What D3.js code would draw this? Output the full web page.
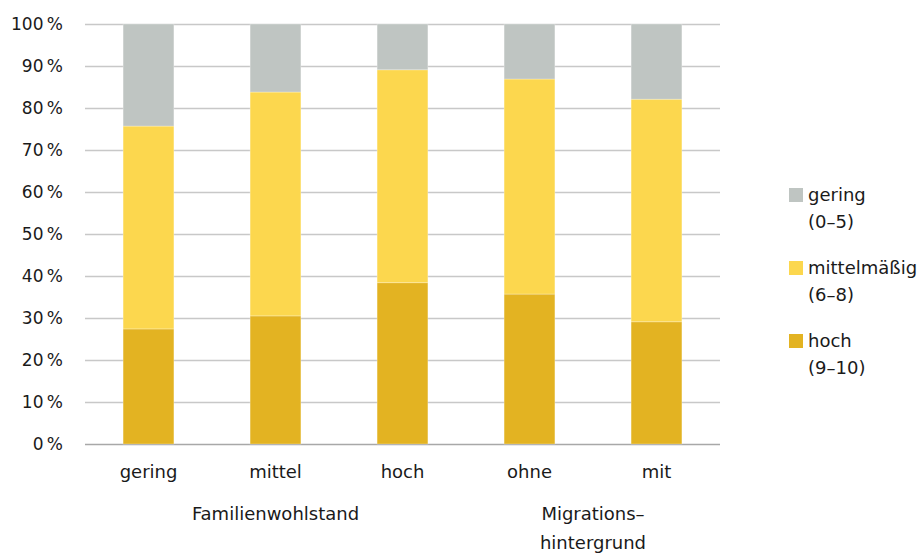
<!DOCTYPE html>
<html><head><meta charset="utf-8">
<script src="https://cdn.jsdelivr.net/npm/d3@7"></script>
<style>body{margin:0;background:#fff}svg{display:block}text{font-family:"DejaVu Sans",sans-serif;fill:#1a1a1a}</style>
</head><body><div id="c"></div>
<script>
const categories = ["gering","mittel","hoch","ohne","mit"];
const hoch = [27.4, 30.5, 38.4, 35.7, 29.1];
const mittelmaessig = [48.3, 53.3, 50.7, 51.2, 53.0];
const gering = [24.3, 16.2, 10.9, 13.1, 17.9];
const yTicks = [0,10,20,30,40,50,60,70,80,90,100];
const seriesNames = ["hoch","mittelmäßig","gering"];
const legendLabels = [["gering","(0–5)"],["mittelmäßig","(6–8)"],["hoch","(9–10)"]];
const groups = [{label:["Familienwohlstand"], from:0, to:2},{label:["Migrations–","hintergrund"], from:3, to:4}];
const colors = {"hoch":"#e3b322","mittelmäßig":"#fcd74e","gering":"#bfc5c2"};
const FONT = "'DejaVu Sans',sans-serif";

const W=917,H=553;
const svg=d3.select("#c").append("svg").attr("width",W).attr("height",H);
const x=d3.scaleBand().domain(categories).range([85,720]).paddingInner(0.6).paddingOuter(0.3);
const y=d3.scaleLinear().domain([0,100]).range([444,24]);

const yAxis=svg.append("g").attr("transform","translate(85,0)")
  .call(d3.axisLeft(y).tickValues(yTicks).tickSize(-635).tickFormat(d=>d+"\u2009%"));
yAxis.select(".domain").remove();
yAxis.selectAll(".tick line").attr("stroke",d=>d===0?"#a8a8a8":"#c8c8c8").attr("stroke-width",1.5);
yAxis.selectAll(".tick text").attr("x",-22).attr("font-size",17).attr("fill","#1a1a1a").attr("font-family",FONT);

const data=categories.map((c,i)=>({cat:c,"hoch":hoch[i],"mittelmäßig":mittelmaessig[i],"gering":gering[i]}));
const stack=d3.stack().keys(seriesNames)(data);
svg.append("g").selectAll("g").data(stack).join("g").attr("fill",d=>colors[d.key])
 .selectAll("rect").data(d=>d).join("rect")
 .attr("x",d=>x(d.data.cat)).attr("width",x.bandwidth())
 .attr("y",d=>y(d[1])).attr("height",d=>y(d[0])-y(d[1]))
 .attr("stroke","#fff").attr("stroke-opacity",0.35).attr("stroke-width",0.8);

const xAxis=svg.append("g").attr("transform","translate(0,444)")
  .call(d3.axisBottom(x).tickSize(0).tickPadding(21));
xAxis.select(".domain").remove();
xAxis.selectAll("text").attr("font-size",18).attr("fill","#1a1a1a").attr("font-family",FONT);

groups.forEach(g=>{
  const cx=(x(categories[g.from])+x(categories[g.to])+x.bandwidth())/2;
  g.label.forEach((l,j)=>svg.append("text").attr("x",cx).attr("y",520+j*29).attr("text-anchor","middle").attr("font-size",18).text(l));
});

const leg=svg.append("g");
const legTop=[188,261,334];
legendLabels.forEach((l,i)=>{
  const key=["gering","mittelmäßig","hoch"][i];
  leg.append("rect").attr("x",789).attr("y",legTop[i]).attr("width",14).attr("height",14).attr("fill",colors[key]);
  leg.append("text").attr("x",808).attr("y",legTop[i]+13).attr("font-size",18).text(l[0]);
  leg.append("text").attr("x",808).attr("y",legTop[i]+40).attr("font-size",18).text(l[1]);
});
</script></body></html>
